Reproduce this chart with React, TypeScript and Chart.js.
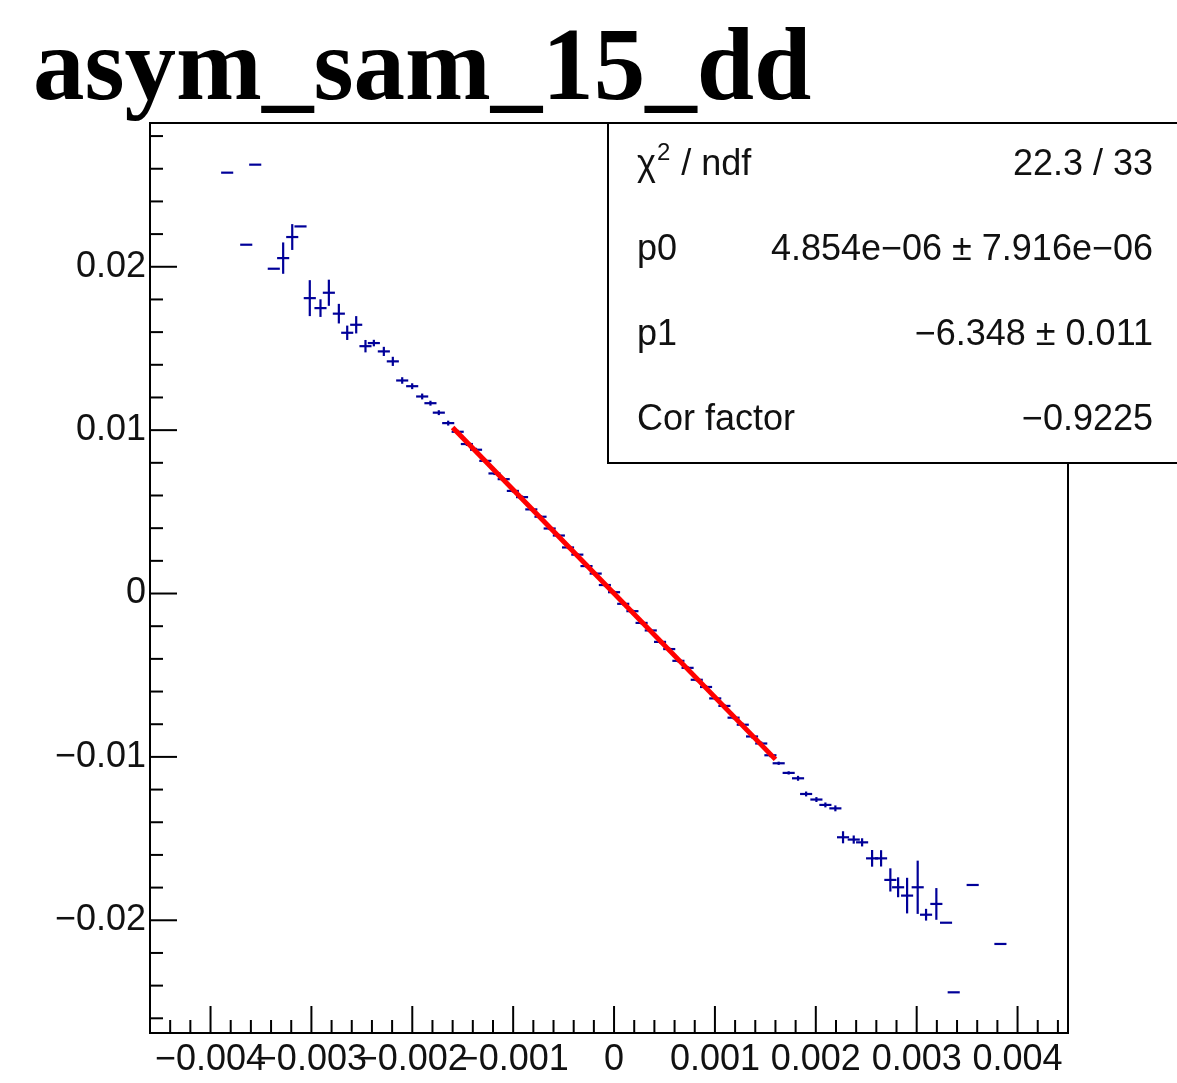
import React, { useEffect, useRef } from 'react';
import { Chart, registerables } from 'chart.js';
Chart.register(...registerables);

const TITLE = 'asym_sam_15_dd';

// profile bin centres
const binX = [
  -0.003835, -0.003646, -0.003557, -0.003373, -0.00328, -0.00319, -0.003108, -0.003016, -0.00291, -0.002827,
  -0.002728, -0.002645, -0.002556, -0.002464, -0.002381, -0.002282, -0.002193, -0.0021, -0.002001, -0.001902,
  -0.00182, -0.001737, -0.001644,
  -0.00155, -0.001459, -0.001368, -0.001276, -0.001185, -0.001094, -0.001003, -0.000912, -0.00082, -0.000729,
  -0.000638, -0.000547, -0.000456, -0.000364, -0.000273, -0.000182, -0.000091, 0.0, 0.000091, 0.000182,
  0.000273, 0.000364, 0.000456, 0.000547, 0.000638, 0.000729, 0.00082, 0.000912, 0.001003, 0.001094,
  0.001185, 0.001276, 0.001368, 0.001459, 0.00155,
  0.001632, 0.001731, 0.001824, 0.001904, 0.002006, 0.002095, 0.002194, 0.00227, 0.002376, 0.002459,
  0.002558, 0.002647, 0.002739, 0.002816, 0.002905, 0.00301, 0.003093, 0.003195, 0.003291, 0.003367,
  0.003555, 0.00383,
];

// profile mean values
const meanY = [
  0.02576, 0.02135, 0.02625, 0.01988, 0.02053, 0.02182, 0.02247, 0.01808, 0.01747, 0.01841,
  0.01713, 0.01596, 0.01645, 0.01514, 0.01533, 0.01482, 0.01421, 0.01304, 0.01269, 0.01206,
  0.01165, 0.01107, 0.01043,
  0.0099, 0.00915, 0.0088, 0.00812, 0.00735, 0.007, 0.00628, 0.0059, 0.00515, 0.0047,
  0.00398, 0.00355, 0.00282, 0.00238, 0.00168, 0.00122, 0.00052, 0.00008, -0.00063, -0.00108,
  -0.0018, -0.00226, -0.00296, -0.0034, -0.00412, -0.00455, -0.00528, -0.00572, -0.00642, -0.00688,
  -0.0076, -0.00803, -0.00875, -0.00918, -0.0099,
  -0.01039, -0.01098, -0.01131, -0.01227, -0.01261, -0.01294, -0.01315, -0.01492, -0.01506, -0.01523,
  -0.01621, -0.01621, -0.01753, -0.01798, -0.01849, -0.01798, -0.01966, -0.019, -0.02015, -0.02441,
  -0.01784, -0.02145,
];

// profile errors on the mean
const errY = [
  0, 0, 0, 0, 0.00096, 0.00079, 0, 0.0011, 0.00054, 0.0008,
  0.0006, 0.00044, 0.00053, 0.00038, 0.0002, 0.00028, 0.00028, 0.0002, 0.00018, 0.00018,
  0.00015, 0.00015, 0.00015,
  0.00012, 0.00012, 0.00012, 0.00012, 0.0001, 0.0001, 0.0001, 0.0001, 0.0001, 0.0001,
  0.0001, 0.0001, 0.0001, 0.0001, 0.0001, 0.0001, 0.0001, 0.0001, 0.0001, 0.0001,
  0.0001, 0.0001, 0.0001, 0.0001, 0.0001, 0.0001, 0.0001, 0.0001, 0.0001, 0.0001,
  0.0001, 0.00012, 0.00012, 0.00012, 0.00012,
  0.0001, 0.0001, 0.00015, 0.00015, 0.00015, 0.00015, 0.00018, 0.00037, 0.00025, 0.00025,
  0.00051, 0.0005, 0.00071, 0.00061, 0.00109, 0.00163, 0.00036, 0.00097, 0, 0,
  0, 0,
];

const BIN_HALF_WIDTH = 0.00006;

// fit
const FIT_MIN = -0.0016;
const FIT_MAX = 0.0016;
const P0 = 4.854e-6;
const P1 = -6.348;

// axes
const X_MIN = -0.0046;
const X_MAX = 0.0045;
const Y_MIN = -0.0269;
const Y_MAX = 0.0288;
const xTickValues = [-0.004, -0.003, -0.002, -0.001, 0, 0.001, 0.002, 0.003, 0.004];
const yTickValues = [-0.02, -0.01, 0, 0.01, 0.02];
const X_MINOR_STEP = 0.0002;
const Y_MINOR_STEP = 0.002;

// stats box
const statNames = ['χ2 / ndf', 'p0', 'p1', 'Cor factor'];
const statValues = ['22.3 / 33', '4.854e\u221206 \u00b1 7.916e\u221206', '\u22126.348 \u00b1 0.011', '\u22120.9225'];

const MARKER_COLOR = '#000099';
const FIT_COLOR = '#ff0000';
const FONT = '"Liberation Sans", Arial, Helvetica, sans-serif';

function fmt(v: number, digits: number): string {
  if (Math.abs(v) < 1e-12) return '0';
  return (v < 0 ? '\u2212' : '') + Math.abs(v).toFixed(digits);
}

const rootPlugin = {
  id: 'rootStyle',
  beforeDatasetsDraw(chart: any) {
    const ctx = chart.ctx;
    const xs = chart.scales.x;
    const ys = chart.scales.y;
    const ca = chart.chartArea;
    ctx.save();
    ctx.beginPath();
    ctx.rect(ca.left, ca.top, ca.right - ca.left, ca.bottom - ca.top);
    ctx.clip();
    ctx.strokeStyle = MARKER_COLOR;
    ctx.lineWidth = 2.2;
    ctx.lineCap = 'butt';
    for (let i = 0; i < binX.length; i++) {
      const x0 = xs.getPixelForValue(binX[i] - BIN_HALF_WIDTH);
      const x1 = xs.getPixelForValue(binX[i] + BIN_HALF_WIDTH);
      const xc = xs.getPixelForValue(binX[i]);
      const yc = ys.getPixelForValue(meanY[i]);
      ctx.beginPath();
      ctx.moveTo(x0, yc);
      ctx.lineTo(x1, yc);
      ctx.stroke();
      if (errY[i] > 0) {
        const y0 = ys.getPixelForValue(meanY[i] - errY[i]);
        const y1 = ys.getPixelForValue(meanY[i] + errY[i]);
        ctx.beginPath();
        ctx.moveTo(xc, y0);
        ctx.lineTo(xc, y1);
        ctx.stroke();
      }
    }
    ctx.restore();
  },
  afterDatasetsDraw(chart: any) {
    const ctx = chart.ctx;
    const xs = chart.scales.x;
    const ys = chart.scales.y;
    const ca = chart.chartArea;
    ctx.save();
    ctx.strokeStyle = '#000';
    ctx.lineWidth = 2;
    const nx0 = Math.ceil(X_MIN / X_MINOR_STEP - 1e-9);
    const nx1 = Math.floor(X_MAX / X_MINOR_STEP + 1e-9);
    for (let i = nx0; i <= nx1; i++) {
      const px = xs.getPixelForValue(i * X_MINOR_STEP);
      const len = i % 5 === 0 ? 27 : 13;
      ctx.beginPath();
      ctx.moveTo(px, ca.bottom);
      ctx.lineTo(px, ca.bottom - len);
      ctx.stroke();
    }
    const ny0 = Math.ceil(Y_MIN / Y_MINOR_STEP - 1e-9);
    const ny1 = Math.floor(Y_MAX / Y_MINOR_STEP + 1e-9);
    for (let i = ny0; i <= ny1; i++) {
      const py = ys.getPixelForValue(i * Y_MINOR_STEP);
      const len = i % 5 === 0 ? 27 : 13;
      ctx.beginPath();
      ctx.moveTo(ca.left, py);
      ctx.lineTo(ca.left + len, py);
      ctx.stroke();
    }
    ctx.strokeRect(ca.left, ca.top, ca.right - ca.left, ca.bottom - ca.top);
    ctx.restore();
  },
  afterDraw(chart: any) {
    const ctx = chart.ctx;
    ctx.save();
    ctx.fillStyle = '#000';
    ctx.font = 'bold 103px "Liberation Serif", "Times New Roman", serif';
    ctx.textAlign = 'left';
    ctx.textBaseline = 'alphabetic';
    ctx.fillText(TITLE, 33, 99);

    const bx = 608, by = 123, bw = 600, bh = 340;
    ctx.fillStyle = '#fff';
    ctx.fillRect(bx, by, bw, bh);
    ctx.strokeStyle = '#000';
    ctx.lineWidth = 2;
    ctx.strokeRect(bx, by, bw, bh);
    const rowH = bh / statNames.length;
    ctx.fillStyle = '#111';
    ctx.textBaseline = 'middle';
    for (let i = 0; i < statNames.length; i++) {
      const cy = by + rowH * (i + 0.5);
      ctx.font = '36px ' + FONT;
      ctx.textAlign = 'left';
      const name = statNames[i];
      if (name.startsWith('χ2')) {
        ctx.fillText('χ', 637, cy);
        const w = ctx.measureText('χ').width;
        ctx.font = '24px ' + FONT;
        ctx.fillText('2', 637 + w + 1, cy - 12);
        const w2 = ctx.measureText('2').width;
        ctx.font = '36px ' + FONT;
        ctx.fillText(name.slice(2), 637 + w + w2 + 2, cy);
      } else {
        ctx.fillText(name, 637, cy);
      }
      ctx.textAlign = 'right';
      ctx.fillText(statValues[i], 1153, cy);
    }
    ctx.restore();
  },
};

export default function App() {
  const ref = useRef<HTMLCanvasElement | null>(null);
  useEffect(() => {
    if (!ref.current) return;
    const pts = binX.map((x, i) => ({ x, y: meanY[i] }));
    const fitPts = [
      { x: FIT_MIN, y: P0 + P1 * FIT_MIN },
      { x: FIT_MAX, y: P0 + P1 * FIT_MAX },
    ];
    const chart = new Chart(ref.current, {
      type: 'scatter',
      data: {
        datasets: [
          { label: 'profile', data: pts, pointRadius: 0, borderColor: MARKER_COLOR, backgroundColor: MARKER_COLOR, order: 2 },
          {
            label: 'fit',
            data: fitPts,
            showLine: true,
            pointRadius: 0,
            borderColor: FIT_COLOR,
            backgroundColor: FIT_COLOR,
            borderWidth: 5,
            order: 1,
          } as any,
        ],
      },
      options: {
        responsive: false,
        animation: false,
        devicePixelRatio: 1,
        layout: { padding: { top: 123, right: 109, bottom: 0, left: 0 } },
        plugins: { legend: { display: false }, tooltip: { enabled: false }, title: { display: false } },
        scales: {
          x: {
            type: 'linear',
            min: X_MIN,
            max: X_MAX,
            grid: { display: false, drawTicks: false },
            border: { display: false },
            afterBuildTicks: (s: any) => {
              s.ticks = xTickValues.map((v) => ({ value: v }));
            },
            afterFit: (s: any) => {
              s.height = 50;
            },
            ticks: {
              autoSkip: false,
              maxRotation: 0,
              minRotation: 0,
              padding: 5,
              color: '#111',
              font: { family: FONT, size: 36 },
              callback: (v: any) => fmt(Number(v), 3),
            },
          },
          y: {
            type: 'linear',
            min: Y_MIN,
            max: Y_MAX,
            grid: { display: false, drawTicks: false },
            border: { display: false },
            afterBuildTicks: (s: any) => {
              s.ticks = yTickValues.map((v) => ({ value: v }));
            },
            afterFit: (s: any) => {
              s.width = 150;
            },
            ticks: {
              autoSkip: false,
              padding: 4,
              color: '#111',
              font: { family: FONT, size: 36 },
              callback: (v: any) => fmt(Number(v), 2),
            },
          },
        },
      },
      plugins: [rootPlugin],
    });
    return () => chart.destroy();
  }, []);
  return (
    <div style={{ position: 'absolute', left: 0, top: 0, width: 1177, height: 1083, background: '#fff' }}>
      <canvas ref={ref} width={1177} height={1083} style={{ display: 'block' }} />
    </div>
  );
}
